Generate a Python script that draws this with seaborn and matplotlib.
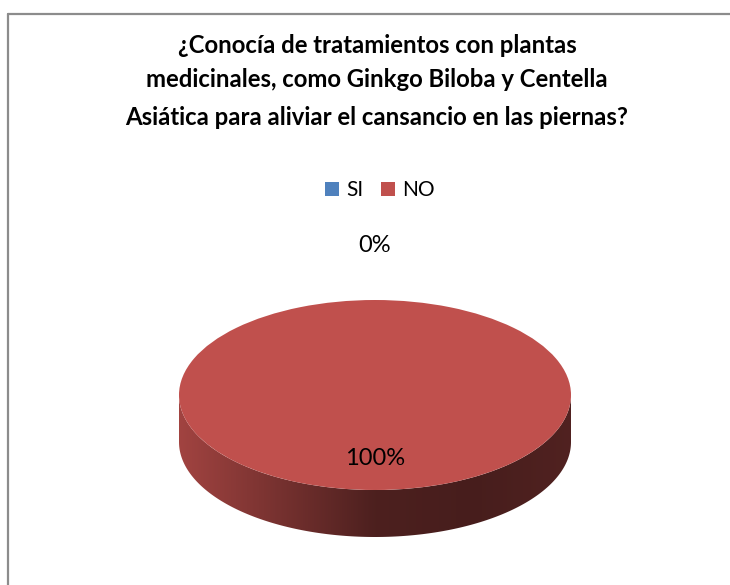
import numpy as np
import matplotlib
matplotlib.use("Agg")
import matplotlib.pyplot as plt
from matplotlib.patches import Polygon
from matplotlib.colors import LinearSegmentedColormap, to_rgb
import seaborn as sns

# ---- data ----
title_lines = [
    "¿Conocía de tratamientos con plantas",
    "medicinales, como Ginkgo Biloba y Centella",
    "Asiática para aliviar el cansancio en las piernas?",
]
categories = ["SI", "NO"]
values = [0, 100]
colors = ["#4F81BD", "#C0504D"]

sns.set_theme(style="white")
plt.rcParams["font.family"] = ["Lato", "DejaVu Sans"]

W, H = 730, 585
fig = plt.figure(figsize=(W / 100, H / 100), dpi=100)
fig.patch.set_facecolor("white")

def fx(x):
    return x / W

def fy(y):
    return 1 - y / H

# axes spanning whole figure, mapped so pie centre sits at (375, 395) px
cx, cy, a, b = 375, 395, 196, 95
ax = fig.add_axes([0, 0, 1, 1])
wedges, _ = ax.pie(values, colors=colors, startangle=90, counterclock=False,
                   radius=1, center=(0, 0), frame=True,
                   wedgeprops=dict(linewidth=0, zorder=3))
ax.set_aspect("auto")
ax.axis("off")

# ---- 3D side band ----
h = 47 / b
total = sum(values)
cum = 0
for v, c in zip(values, colors):
    start, end = cum / total, (cum + v) / total
    cum += v
    if v == 0:
        continue
    t_hi = 90 - start * 360
    t_lo = 90 - end * 360
    lo, hi = max(t_lo, -180), min(t_hi, 0)
    if hi <= lo:
        continue
    t = np.radians(np.linspace(lo, hi, 200))
    top = np.column_stack([np.cos(t), np.sin(t)])
    bot = np.column_stack([np.cos(t[::-1]), np.sin(t[::-1]) - h])
    poly = Polygon(np.vstack([top, bot]), closed=True, facecolor="none",
                   edgecolor="none", zorder=2)
    ax.add_patch(poly)
    base = np.array(to_rgb(c))
    cmap = LinearSegmentedColormap.from_list(
        "side", [base * 0.84, base * 0.62, base * 0.40, base * 0.37, base * 0.42])
    grad = np.linspace(0, 1, 256)[None, :]
    im = ax.imshow(grad, cmap=cmap, extent=[-1, 1, -1 - h, 0.2],
                   aspect="auto", zorder=2, interpolation="bilinear")
    im.set_clip_path(poly)
ax.set_xlim(-cx / a, (W - cx) / a)
ax.set_ylim((cy - H) / b, cy / b)

# ---- labels ----
pct = [f"{v / total * 100:.0f}%" for v in values]
fig.text(fx(375), fy(252), pct[0], ha="center", va="baseline",
         fontsize=17, color="black")
fig.text(fx(375), fy(465), pct[1], ha="center", va="baseline",
         fontsize=17, color="black", zorder=5)

# ---- title ----
for line, base_y in zip(title_lines, [53, 87, 125]):
    fig.text(fx(377), fy(base_y), line, ha="center", va="baseline",
             fontsize=17.2, fontweight="bold", color="black")

# ---- legend ----
leg_x = [325, 381]
txt_x = [346, 402]
for x0, tx, cat, c in zip(leg_x, txt_x, categories, colors):
    fig.patches.append(plt.Rectangle((fx(x0), fy(196)), 14 / W, 14 / H,
                                     transform=fig.transFigure,
                                     facecolor=c, edgecolor="none"))
    fig.text(fx(tx), fy(196), cat, ha="left", va="baseline",
             fontsize=15, color="black")

# ---- border ----
fig.add_artist(plt.Line2D([fx(8), fx(8)], [fy(14), fy(590)],
                          transform=fig.transFigure, color="#8C8C8C", lw=1.6))
fig.add_artist(plt.Line2D([fx(8), fx(735)], [fy(14), fy(14)],
                          transform=fig.transFigure, color="#8C8C8C", lw=1.6))

fig.savefig("out.png", dpi=100, facecolor="white")
